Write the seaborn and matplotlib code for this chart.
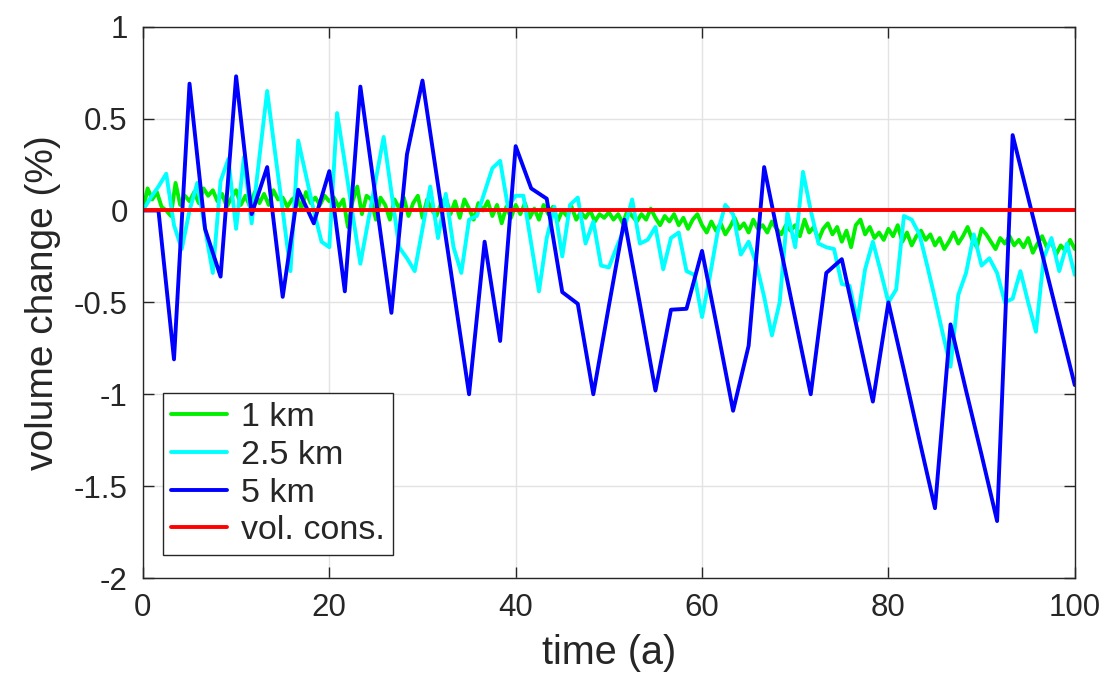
import numpy as np
import pandas as pd
import matplotlib
matplotlib.use("Agg")
import matplotlib.pyplot as plt
import seaborn as sns

# ---------------- data ----------------
# 1 km run (dt = 0.5 a)
t_1km = np.linspace(0, 100, 201)
v_1km = [
    0.00, 0.12, 0.06, 0.10, 0.02, 0.00, -0.03, 0.15, 0.03, 0.08, 0.05, 0.10, 0.04, 0.12, 0.08, 0.11, 0.05, 0.09, 0.02, 0.07,
    0.11, 0.03, 0.08, 0.02, 0.10, 0.04, 0.09, 0.03, 0.11, 0.06, 0.07, 0.02, 0.06, 0.08, 0.01, 0.10, 0.04, 0.07, 0.03, 0.08,
    0.05, 0.07, 0.02, 0.06, -0.09, 0.05, 0.13, -0.02, 0.08, 0.06, -0.05, 0.07, 0.03, -0.05, 0.06, 0.01, 0.07, -0.03, 0.04, 0.08,
    -0.04, 0.06, 0.00, -0.03, 0.04, 0.07, -0.02, 0.05, -0.04, 0.06, 0.01, -0.05, 0.04, 0.00, 0.05, -0.03, 0.03, -0.07, 0.02, -0.04,
    0.03, -0.02, 0.04, -0.04, 0.01, -0.05, 0.03, -0.02, 0.02, -0.06, 0.00, -0.03, 0.02, -0.05, -0.01, -0.04, 0.00, -0.06, -0.02, -0.04,
    -0.01, -0.05, -0.02, -0.07, 0.00, -0.03, -0.06, -0.02, -0.05, 0.01, -0.04, -0.08, -0.03, -0.06, -0.02, -0.08, -0.04, -0.10, -0.05, -0.02,
    -0.08, -0.12, -0.06, -0.11, -0.07, -0.13, -0.09, -0.04, -0.10, -0.07, -0.12, -0.05, -0.10, -0.08, -0.12, -0.06, -0.10, -0.13, -0.08, -0.11,
    -0.08, -0.14, -0.05, -0.12, -0.09, -0.16, -0.10, -0.07, -0.13, -0.09, -0.17, -0.11, -0.20, -0.08, -0.05, -0.13, -0.09, -0.15, -0.12, -0.16,
    -0.10, -0.14, -0.08, -0.17, -0.12, -0.19, -0.14, -0.11, -0.16, -0.13, -0.19, -0.15, -0.21, -0.17, -0.12, -0.18, -0.14, -0.09, -0.16, -0.20,
    -0.10, -0.13, -0.17, -0.21, -0.15, -0.18, -0.14, -0.19, -0.16, -0.20, -0.15, -0.23, -0.18, -0.14, -0.20, -0.17, -0.24, -0.19, -0.22, -0.16,
    -0.21,
]

# 2.5 km run (dt = 0.833 a)
t_2p5km = np.linspace(0, 100, 121)
v_2p5km = [
    0.00, 0.07, 0.13, 0.20, -0.08, -0.21, 0.00, 0.15, -0.10, -0.34,
    0.16, 0.28, -0.10, 0.29, -0.07, 0.29, 0.65, 0.32, 0.00, -0.33,
    0.38, 0.19, 0.00, -0.17, -0.20, 0.53, 0.26, -0.02, -0.29, -0.06,
    0.17, 0.40, 0.10, -0.20, -0.26, -0.33, -0.10, 0.13, -0.15, 0.09,
    -0.20, -0.34, -0.05, -0.03, 0.10, 0.23, 0.27, 0.02, 0.08, 0.08,
    -0.18, -0.44, -0.15, 0.02, -0.25, 0.03, 0.07, -0.18, -0.06, -0.30,
    -0.31, -0.20, -0.10, 0.06, -0.18, -0.16, -0.09, -0.32, -0.15, -0.12,
    -0.33, -0.35, -0.58, -0.36, -0.12, 0.03, -0.02, -0.24, -0.17, -0.29,
    -0.47, -0.68, -0.50, -0.01, -0.20, 0.21, 0.00, -0.18, -0.20, -0.21,
    -0.40, -0.41, -0.60, -0.32, -0.17, -0.33, -0.50, -0.43, -0.03, -0.05,
    -0.13, -0.30, -0.48, -0.67, -0.85, -0.46, -0.34, -0.13, -0.30, -0.26,
    -0.34, -0.50, -0.48, -0.33, -0.50, -0.66, -0.26, -0.15, -0.33, -0.18,
    -0.35,
]

# 5 km run (dt = 1.667 a)
t_5km = np.linspace(0, 100, 61)
v_5km = [
    0.00, 0.00, -0.81, 0.69, -0.10, -0.36, 0.73, -0.02, 0.236, -0.47,
    0.113, -0.07, 0.214, -0.44, 0.674, 0.06, -0.557, 0.305, 0.707, 0.14,
    -0.43, -1.00, -0.17, -0.71, 0.35, 0.12, 0.064, -0.444, -0.508, -1.00,
    -0.52, -0.05, -0.51, -0.98, -0.54, -0.535, -0.22, -0.65, -1.09, -0.736,
    0.236, -0.18, -0.59, -1.00, -0.34, -0.265, -0.65, -1.04, -0.50, -0.87,
    -1.25, -1.62, -0.62, -0.98, -1.33, -1.69, 0.41, 0.07, -0.27, -0.61,
    -0.95,
]

# volume conserving reference
t_cons = [0, 100]
v_cons = [0.0, 0.0]

series_labels = ["1 km", "2.5 km", "5 km", "vol. cons."]
series_colors = ["#00f000", "#00ffff", "#0000ff", "#ff0000"]

x_ticks = [0, 20, 40, 60, 80, 100]
y_ticks = [-2, -1.5, -1, -0.5, 0, 0.5, 1]
y_ticklabels = ["-2", "-1.5", "-1", "-0.5", "0", "0.5", "1"]

# ---------------- style ----------------
sns.set_theme(style="ticks")
plt.rcParams["font.family"] = ["Liberation Sans", "DejaVu Sans"]
plt.rcParams["axes.unicode_minus"] = False

fig = plt.figure(figsize=(11.08, 6.74), dpi=100)
ax = fig.add_axes([0.129, 0.1424, 0.841, 0.818])

data = [(t_1km, v_1km), (t_2p5km, v_2p5km), (t_5km, v_5km), (t_cons, v_cons)]
for (t, v), lab, col in zip(data, series_labels, series_colors):
    df = pd.DataFrame({"t": t, "v": v})
    sns.lineplot(data=df, x="t", y="v", ax=ax, color=col, linewidth=2.8,
                 label=lab, estimator=None, sort=False)

ax.set_xlim(0, 100)
ax.set_ylim(-2, 1)
ax.set_xticks(x_ticks)
ax.set_xticklabels([str(v) for v in x_ticks])
ax.set_yticks(y_ticks)
ax.set_yticklabels(y_ticklabels)

ax.grid(True, color="#e3e3e3", linewidth=1.0)
ax.set_axisbelow(True)
for s in ax.spines.values():
    s.set_visible(True)
    s.set_color("#262626")
    s.set_linewidth(1.0)
ax.tick_params(axis="both", direction="in", length=8, width=1.0, color="#262626",
               labelsize=22.5, labelcolor="#262626", top=True, right=True)
ax.tick_params(axis="y", pad=11)
ax.tick_params(axis="x", pad=11)

ax.set_xlabel("time (a)", fontsize=28.5, color="#262626", labelpad=8)
ax.set_ylabel("volume change (%)", fontsize=28, color="#262626", labelpad=9)

leg = ax.legend(loc="lower left", bbox_to_anchor=(0.021, 0.042), fontsize=24.5,
                frameon=True, fancybox=False, edgecolor="#262626", framealpha=1,
                handlelength=1.65, borderpad=0.25, labelspacing=0.2, handletextpad=0.4,
                borderaxespad=0)
leg.get_frame().set_linewidth(1.0)
for txt in leg.get_texts():
    txt.set_color("#262626")

fig.savefig("out.png", dpi=100)
